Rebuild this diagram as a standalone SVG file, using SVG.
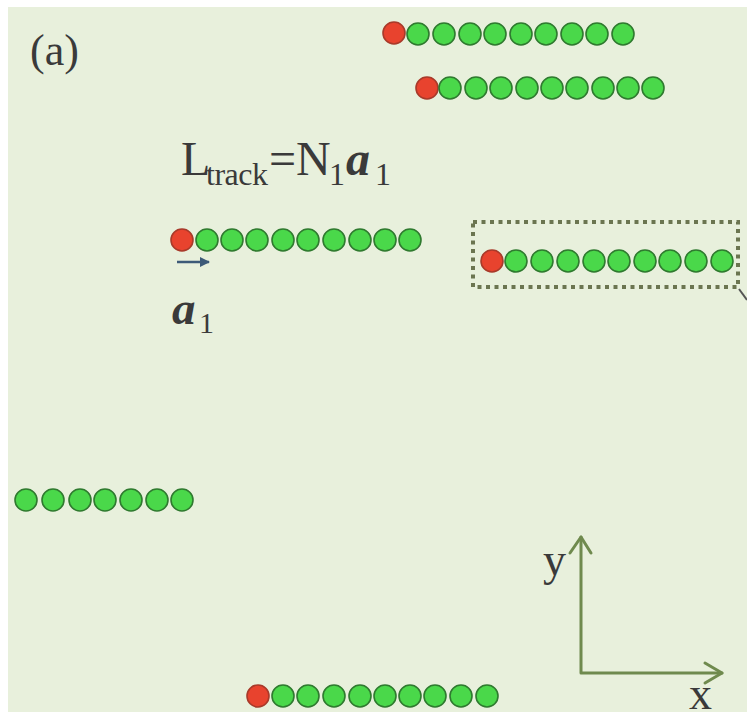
<svg xmlns="http://www.w3.org/2000/svg" width="747" height="712" viewBox="0 0 747 712">
<defs>
<style>
.g{fill:#4ad84a;stroke:#2f7a2f;stroke-width:1.6}
.r{fill:#e8432e;stroke:#a83a2a;stroke-width:1.6}
.t{font-family:"Liberation Serif","Times New Roman",serif;fill:#3a3a3a}
.ax{fill:none;stroke:#6f8a4e;stroke-width:3;stroke-linecap:round;stroke-linejoin:round}
</style>
<marker id="ah" viewBox="0 0 10 10" refX="9" refY="5" markerWidth="4" markerHeight="4" orient="auto">
<path d="M0,0 L10,5 L0,10 z" fill="#3d5a78"/>
</marker>
</defs>
<rect x="0" y="0" width="747" height="712" fill="#ffffff"/>
<rect x="8" y="7" width="739" height="705" fill="#e8f0dc"/>
<text class="t" x="30" y="65" font-size="44">(a)</text>

<g id="chain1">
<circle class="r" cx="394" cy="33" r="11"/>
<circle class="g" cx="418" cy="34" r="11"/><circle class="g" cx="444" cy="34" r="11"/><circle class="g" cx="470" cy="34" r="11"/><circle class="g" cx="495" cy="34" r="11"/><circle class="g" cx="521" cy="34" r="11"/><circle class="g" cx="546" cy="34" r="11"/><circle class="g" cx="572" cy="34" r="11"/><circle class="g" cx="597" cy="34" r="11"/><circle class="g" cx="623" cy="34" r="11"/>
</g>
<g id="chain2">
<circle class="r" cx="427" cy="88" r="11"/>
<circle class="g" cx="450" cy="88" r="11"/><circle class="g" cx="476" cy="88" r="11"/><circle class="g" cx="501" cy="88" r="11"/><circle class="g" cx="527" cy="88" r="11"/><circle class="g" cx="552" cy="88" r="11"/><circle class="g" cx="577" cy="88" r="11"/><circle class="g" cx="603" cy="88" r="11"/><circle class="g" cx="628" cy="88" r="11"/><circle class="g" cx="653" cy="88" r="11"/>
</g>
<g id="label-track">
<text class="t" x="181" y="175" font-size="48">L<tspan x="206" y="185" font-size="32" letter-spacing="-0.5">track</tspan><tspan x="269" y="175">=N</tspan><tspan x="329" y="185" font-size="32">1</tspan><tspan x="346" y="175" font-weight="bold" font-style="italic">a</tspan><tspan x="375" y="185" font-size="32">1</tspan></text>
</g>
<g id="chain3">
<circle class="r" cx="182" cy="240" r="11"/>
<circle class="g" cx="207" cy="240" r="11"/><circle class="g" cx="232" cy="240" r="11"/><circle class="g" cx="257" cy="240" r="11"/><circle class="g" cx="283" cy="240" r="11"/><circle class="g" cx="308" cy="240" r="11"/><circle class="g" cx="334" cy="240" r="11"/><circle class="g" cx="360" cy="240" r="11"/><circle class="g" cx="385" cy="240" r="11"/><circle class="g" cx="410" cy="240" r="11"/>
</g>
<g id="label-a1">
<text class="t" x="172" y="324" font-size="47" font-weight="bold" font-style="italic">a<tspan x="199" y="333" font-size="30" font-weight="normal" font-style="normal">1</tspan></text>
</g>
<g id="chain4">
<rect x="473" y="222" width="265" height="65" fill="none" stroke="#6b7550" stroke-width="4" stroke-dasharray="4 4.5"/>
<circle class="r" cx="492" cy="261" r="11"/>
<circle class="g" cx="516" cy="261" r="11"/><circle class="g" cx="542" cy="261" r="11"/><circle class="g" cx="568" cy="261" r="11"/><circle class="g" cx="594" cy="261" r="11"/><circle class="g" cx="619" cy="261" r="11"/><circle class="g" cx="645" cy="261" r="11"/><circle class="g" cx="670" cy="261" r="11"/><circle class="g" cx="696" cy="261" r="11"/><circle class="g" cx="722" cy="261" r="11"/>
</g>
<g id="chain5">
<circle class="g" cx="26" cy="500" r="11"/><circle class="g" cx="53" cy="500" r="11"/><circle class="g" cx="80" cy="500" r="11"/><circle class="g" cx="105" cy="500" r="11"/><circle class="g" cx="131" cy="500" r="11"/><circle class="g" cx="157" cy="500" r="11"/><circle class="g" cx="182" cy="500" r="11"/>
</g>
<g id="chain6">
<circle class="r" cx="258" cy="696" r="11"/>
<circle class="g" cx="283" cy="696" r="11"/><circle class="g" cx="308" cy="696" r="11"/><circle class="g" cx="334" cy="696" r="11"/><circle class="g" cx="360" cy="696" r="11"/><circle class="g" cx="385" cy="696" r="11"/><circle class="g" cx="410" cy="696" r="11"/><circle class="g" cx="435" cy="696" r="11"/><circle class="g" cx="461" cy="696" r="11"/><circle class="g" cx="487" cy="696" r="11"/>
</g>
<g id="axes">
<path class="ax" d="M581,537 L581,673 L722,673"/>
<path class="ax" d="M570,553 L581,537 L591,553"/>
<path class="ax" d="M705,663 L722,673 L705,683"/>
<text class="t" x="543" y="575" font-size="46">y</text>
<text class="t" x="689" y="709" font-size="46">x</text>
</g>
<g id="connectors">
<line x1="177" y1="262" x2="209" y2="262" stroke="#3d5a78" stroke-width="2.5" marker-end="url(#ah)"/>
<line x1="739" y1="289" x2="747" y2="300" stroke="#555" stroke-width="2"/>
</g>
</svg>
